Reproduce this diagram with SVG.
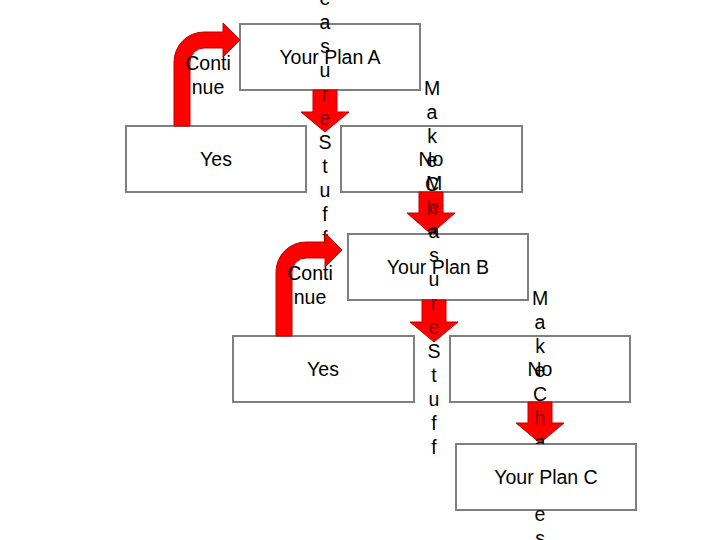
<svg xmlns="http://www.w3.org/2000/svg" width="720" height="540" viewBox="0 0 720 540">
<style>
.box{fill:#ffffff;stroke:#7f7f7f;stroke-width:2}
.lbl{font-family:"Liberation Sans",Arial,sans-serif;font-size:19.5px;fill:#000;text-anchor:middle}
.arr{fill:#ff0000;stroke:#c00000;stroke-width:1}
.dk{fill:#8a0000}
</style>
<defs>
<clipPath id="clipMC1"><rect x="0" y="0" width="720" height="234"/></clipPath>
<clipPath id="clipMC2"><rect x="0" y="0" width="720" height="444"/><rect x="0" y="510" width="720" height="30"/></clipPath>
</defs>
<rect width="720" height="540" fill="#ffffff"/>
<g id="planA"><rect class="box" x="240" y="24" width="180" height="66"/><text class="lbl" x="330" y="64">Your Plan A</text></g>
<g id="yes1"><rect class="box" x="126" y="126" width="180" height="66"/><text class="lbl" x="216" y="166">Yes</text></g>
<g id="no1"><rect class="box" x="341" y="126" width="181" height="66"/><text class="lbl" x="431" y="166">No</text></g>
<g id="planB"><rect class="box" x="348" y="234" width="180" height="66"/><text class="lbl" x="438" y="274">Your Plan B</text></g>
<g id="yes2"><rect class="box" x="233" y="336" width="181" height="66"/><text class="lbl" x="323" y="376">Yes</text></g>
<g id="no2"><rect class="box" x="450" y="336" width="180" height="66"/><text class="lbl" x="540" y="376">No</text></g>
<g id="planC"><rect class="box" x="456" y="444" width="180" height="66"/><text class="lbl" x="546" y="484">Your Plan C</text></g>
<g id="connectors">
<path class="arr" d="M313 90 H337 V112 H349 L325 132 L301 112 H313 Z"/>
<path class="arr" d="M419 192 H443 V213 H455 L431 234 L407 213 H419 Z"/>
<path class="arr" d="M422 300 H446 V322 H458 L434 342 L410 322 H422 Z"/>
<path class="arr" d="M528 402 H552 V423 H564 L540 443 L516 423 H528 Z"/>
<text class="lbl" x="325" y="-19">M<tspan x="325" dy="24">e</tspan><tspan x="325" dy="24">a</tspan><tspan x="325" dy="24">s</tspan><tspan x="325" dy="24">u</tspan><tspan x="325" dy="24" class="dk">r</tspan><tspan x="325" dy="24" class="dk">e</tspan><tspan x="325" dy="24">S</tspan><tspan x="325" dy="24">t</tspan><tspan x="325" dy="24">u</tspan><tspan x="325" dy="24">f</tspan><tspan x="325" dy="24">f</tspan></text>
<text class="lbl" x="432" y="95" clip-path="url(#clipMC1)">M<tspan x="432" dy="24">a</tspan><tspan x="432" dy="24">k</tspan><tspan x="432" dy="24">e</tspan><tspan x="432" dy="24">C</tspan><tspan x="432" dy="24" class="dk">h</tspan><tspan x="432" dy="24">a</tspan><tspan x="432" dy="24">n</tspan><tspan x="432" dy="24">g</tspan><tspan x="432" dy="24">e</tspan><tspan x="432" dy="24">s</tspan></text>
<text class="lbl" x="434" y="190">M<tspan x="434" dy="24" class="dk">e</tspan><tspan x="434" dy="24">a</tspan><tspan x="434" dy="24">s</tspan><tspan x="434" dy="24">u</tspan><tspan x="434" dy="24" class="dk">r</tspan><tspan x="434" dy="24" class="dk">e</tspan><tspan x="434" dy="24">S</tspan><tspan x="434" dy="24">t</tspan><tspan x="434" dy="24">u</tspan><tspan x="434" dy="24">f</tspan><tspan x="434" dy="24">f</tspan></text>
<text class="lbl" x="540" y="305" clip-path="url(#clipMC2)">M<tspan x="540" dy="24">a</tspan><tspan x="540" dy="24">k</tspan><tspan x="540" dy="24">e</tspan><tspan x="540" dy="24">C</tspan><tspan x="540" dy="24" class="dk">h</tspan><tspan x="540" dy="24">a</tspan><tspan x="540" dy="24">n</tspan><tspan x="540" dy="24">g</tspan><tspan x="540" dy="24">e</tspan><tspan x="540" dy="24">s</tspan></text>
<path class="arr" d="M174 126 V62 A30 30 0 0 1 204 32 H223 V23 L240 40 L223 57 V48 H204 A14 14 0 0 0 190 62 V126 Z"/>
<path class="arr" d="M276 336 V272 A30 30 0 0 1 306 242 H325 V233 L342 250 L325 267 V258 H306 A14 14 0 0 0 292 272 V336 Z"/>
<text class="lbl" x="208" y="70">Conti<tspan x="208" dy="24">nue</tspan></text>
<text class="lbl" x="310" y="280">Conti<tspan x="310" dy="24">nue</tspan></text>
</g>
</svg>
